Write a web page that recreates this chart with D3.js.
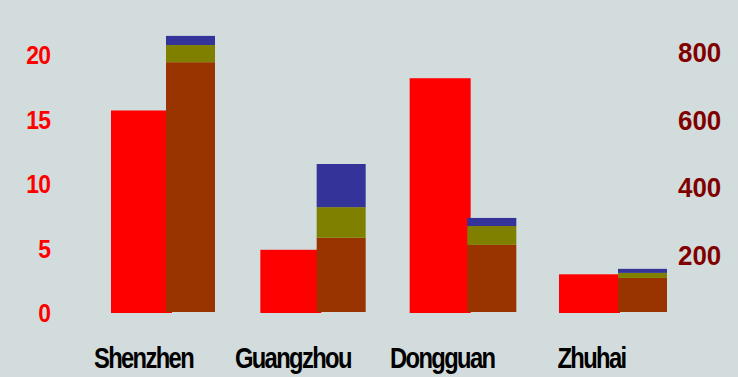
<!DOCTYPE html>
<html>
<head>
<meta charset="utf-8">
<script src="https://cdn.jsdelivr.net/npm/d3@7"></script>
<style>
  body { margin: 0; background: #d3dcdd; }
  svg { display: block; }
</style>
</head>
<body>
<script>
const cities = ["Shenzhen", "Guangzhou", "Dongguan", "Zhuhai"];
const redValues = [15.7, 4.9, 18.2, 3.0];
const brownValues = [741, 220, 199, 101];
const oliveValues = [51, 91, 56, 15];
const blueValues = [27, 128, 24, 12];
const leftTicks = [0, 5, 10, 15, 20];
const rightTicks = [200, 400, 600, 800];

const w = 738;
const h = 377;

const svg = d3.select("body").append("svg").attr("width", w).attr("height", h);
svg.append("rect").attr("width", w).attr("height", h).attr("fill", "#d3dcdd");

const yLeft = d3.scaleLinear().domain([0, 20]).range([313, 55]);
const yRight = d3.scaleLinear().domain([0, 800]).range([312, 42.3]);

// red bars and stacked bars sit on slightly different steps
const xRed = d3.scalePoint().domain(cities).range([111, 559]);
const xStack = d3.scalePoint().domain(cities).range([166, 618]);
const redW = 61;
const stackW = 49;

const rows = cities.map((c, i) => ({
  city: c,
  red: redValues[i],
  brown: brownValues[i],
  olive: oliveValues[i],
  blue: blueValues[i],
}));

svg
  .selectAll("rect.red")
  .data(rows)
  .enter()
  .append("rect")
  .attr("class", "red")
  .attr("x", (d) => xRed(d.city))
  .attr("width", redW)
  .attr("y", (d) => yLeft(d.red))
  .attr("height", (d) => yLeft(0) - yLeft(d.red))
  .attr("fill", "#ff0000");

const stack = d3.stack().keys(["brown", "olive", "blue"])(rows);
const colors = { brown: "#993300", olive: "#808000", blue: "#333399" };

svg
  .selectAll("g.layer")
  .data(stack)
  .enter()
  .append("g")
  .attr("fill", (s) => colors[s.key])
  .selectAll("rect")
  .data((s) => s)
  .enter()
  .append("rect")
  .attr("x", (d) => xStack(d.data.city))
  .attr("width", stackW)
  .attr("y", (d) => yRight(d[1]))
  .attr("height", (d) => yRight(d[0]) - yRight(d[1]));

// left axis
const leftAxis = svg.append("g").attr("transform", "translate(50,0)");
leftAxis
  .selectAll("text")
  .data(leftTicks)
  .enter()
  .append("text")
  .attr("transform", (d) => `translate(0,${yLeft(d)}) scale(0.88,1)`)
  .attr("text-anchor", "end")
  .attr("dy", "0.36em")
  .attr("letter-spacing", -1)
  .attr("font-family", "Liberation Sans, Arial, sans-serif")
  .attr("font-weight", "bold")
  .attr("font-size", 26)
  .attr("fill", "#ff0000")
  .text((d) => d);

// right axis, labels hang just below their tick
const rightAxis = svg.append("g").attr("transform", "translate(678,0)");
rightAxis
  .selectAll("text")
  .data(rightTicks)
  .enter()
  .append("text")
  .attr("transform", (d) => `translate(0,${yRight(d)}) scale(0.96,1)`)
  .attr("dy", "0.74em")
  .attr("font-family", "Liberation Sans, Arial, sans-serif")
  .attr("font-weight", "bold")
  .attr("font-size", 27)
  .attr("fill", "#800000")
  .text((d) => d);

// category labels
svg
  .selectAll("text.cat")
  .data(cities)
  .enter()
  .append("text")
  .attr("class", "cat")
  .attr("transform", (d) => `translate(${xRed(d) + redW / 2 + 2},368) scale(0.82,1)`)
  .attr("text-anchor", "middle")
  .attr("letter-spacing", -2)
  .attr("font-family", "Liberation Sans, Arial, sans-serif")
  .attr("font-weight", "bold")
  .attr("font-size", 29)
  .attr("fill", "#000")
  .text((d) => d);
</script>
</body>
</html>
